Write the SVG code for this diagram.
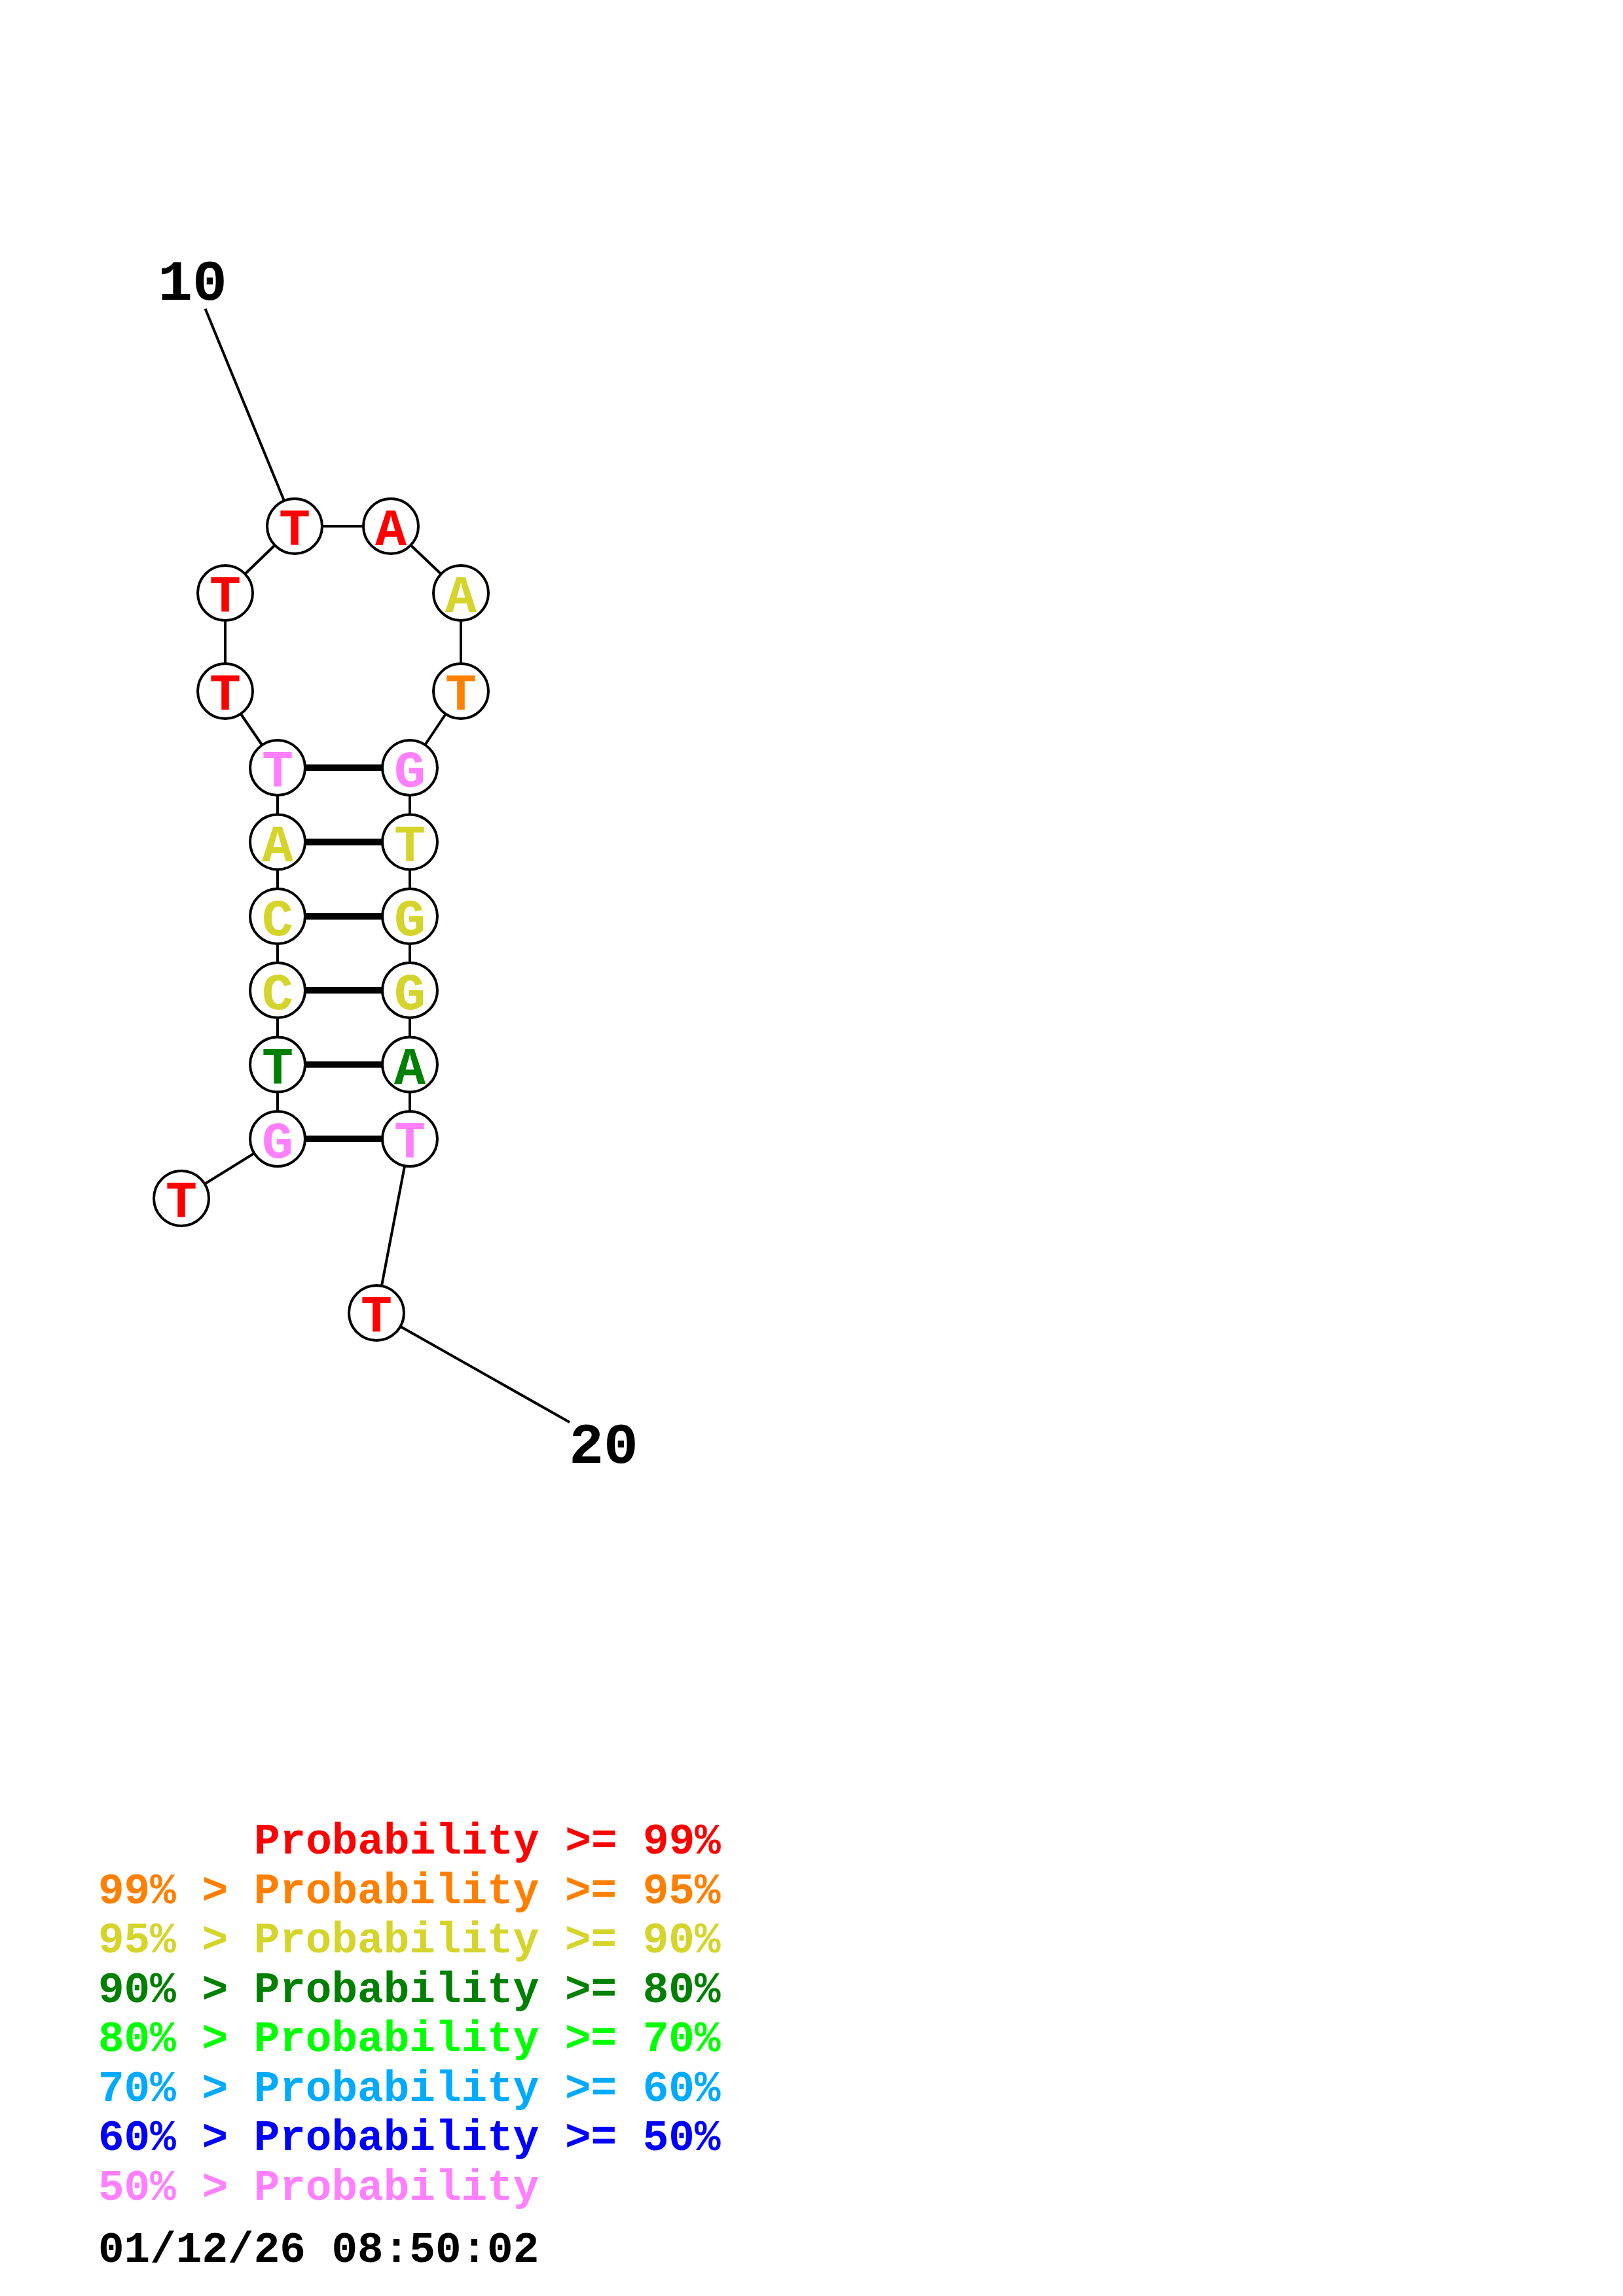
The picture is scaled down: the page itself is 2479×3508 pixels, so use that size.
<svg xmlns="http://www.w3.org/2000/svg" width="2479" height="3508" viewBox="0 0 2479 3508">
<style>
.bb{stroke:#000;stroke-width:4;fill:none}
.bp{stroke:#000;stroke-width:10;fill:none}
.nc{fill:#fff;stroke:#000;stroke-width:4}
.nt{font-family:"Liberation Mono","Courier New",monospace;font-weight:bold;font-size:80px;text-anchor:middle}
.lbl{font-family:"Liberation Mono","Courier New",monospace;font-weight:bold;font-size:88px;text-anchor:middle;fill:#000}
.lg{font-family:"Liberation Mono","Courier New",monospace;font-weight:bold;font-size:66px;white-space:pre}
.r{fill:#FF0000}.o{fill:#FF8000}.y{fill:#D4D42A}.g{fill:#008000}.lgr{fill:#00FF00}.lb{fill:#00AAFF}.b{fill:#0000FF}.p{fill:#FF80FF}.k{fill:#000}
</style>
<rect width="2479" height="3508" fill="#fff"/>
<g id="connectors">
<line class="bb" x1="313.5" y1="471.7" x2="450" y2="804"/>
<line class="bb" x1="277" y1="1831" x2="424" y2="1740"/>
<line class="bb" x1="424" y1="1740" x2="424" y2="1173"/>
<line class="bb" x1="424" y1="1173" x2="344" y2="1056"/>
<line class="bb" x1="344" y1="1056" x2="344" y2="906"/>
<line class="bb" x1="344" y1="906" x2="450" y2="804"/>
<line class="bb" x1="450" y1="804" x2="597" y2="804"/>
<line class="bb" x1="597" y1="804" x2="704" y2="906"/>
<line class="bb" x1="704" y1="906" x2="704" y2="1056"/>
<line class="bb" x1="704" y1="1056" x2="626" y2="1173"/>
<line class="bb" x1="626" y1="1173" x2="626" y2="1740"/>
<line class="bb" x1="626" y1="1740" x2="575" y2="2006"/>
<line class="bb" x1="575" y1="2006" x2="870" y2="2173"/>
<line class="bp" x1="424" y1="1173" x2="626" y2="1173"/>
<line class="bp" x1="424" y1="1286.5" x2="626" y2="1286.5"/>
<line class="bp" x1="424" y1="1400" x2="626" y2="1400"/>
<line class="bp" x1="424" y1="1513" x2="626" y2="1513"/>
<line class="bp" x1="424" y1="1626.5" x2="626" y2="1626.5"/>
<line class="bp" x1="424" y1="1740" x2="626" y2="1740"/>
</g>
<g id="label-10"><text class="lbl" x="294" y="458">10</text></g>
<g id="label-20"><text class="lbl" x="922" y="2235">20</text></g>
<g id="n1"><circle class="nc" cx="277" cy="1831" r="42"/><text class="nt r" x="277" y="1860">T</text></g>
<g id="n2"><circle class="nc" cx="424" cy="1740" r="42"/><text class="nt p" x="424" y="1769">G</text></g>
<g id="n3"><circle class="nc" cx="424" cy="1626.5" r="42"/><text class="nt g" x="424" y="1655.5">T</text></g>
<g id="n4"><circle class="nc" cx="424" cy="1513" r="42"/><text class="nt y" x="424" y="1542">C</text></g>
<g id="n5"><circle class="nc" cx="424" cy="1400" r="42"/><text class="nt y" x="424" y="1429">C</text></g>
<g id="n6"><circle class="nc" cx="424" cy="1286.5" r="42"/><text class="nt y" x="424" y="1315.5">A</text></g>
<g id="n7"><circle class="nc" cx="424" cy="1173" r="42"/><text class="nt p" x="424" y="1202">T</text></g>
<g id="n8"><circle class="nc" cx="344" cy="1056" r="42"/><text class="nt r" x="344" y="1085">T</text></g>
<g id="n9"><circle class="nc" cx="344" cy="906" r="42"/><text class="nt r" x="344" y="935">T</text></g>
<g id="n10"><circle class="nc" cx="450" cy="804" r="42"/><text class="nt r" x="450" y="833">T</text></g>
<g id="n11"><circle class="nc" cx="597" cy="804" r="42"/><text class="nt r" x="597" y="833">A</text></g>
<g id="n12"><circle class="nc" cx="704" cy="906" r="42"/><text class="nt y" x="704" y="935">A</text></g>
<g id="n13"><circle class="nc" cx="704" cy="1056" r="42"/><text class="nt o" x="704" y="1085">T</text></g>
<g id="n14"><circle class="nc" cx="626" cy="1173" r="42"/><text class="nt p" x="626" y="1202">G</text></g>
<g id="n15"><circle class="nc" cx="626" cy="1286.5" r="42"/><text class="nt y" x="626" y="1315.5">T</text></g>
<g id="n16"><circle class="nc" cx="626" cy="1400" r="42"/><text class="nt y" x="626" y="1429">G</text></g>
<g id="n17"><circle class="nc" cx="626" cy="1513" r="42"/><text class="nt y" x="626" y="1542">G</text></g>
<g id="n18"><circle class="nc" cx="626" cy="1626.5" r="42"/><text class="nt g" x="626" y="1655.5">A</text></g>
<g id="n19"><circle class="nc" cx="626" cy="1740" r="42"/><text class="nt p" x="626" y="1769">T</text></g>
<g id="n20"><circle class="nc" cx="575" cy="2006" r="42"/><text class="nt r" x="575" y="2035">T</text></g>
<g id="legend">
<text class="lg r" x="388" y="2832">Probability &gt;= 99%</text>
<text class="lg o" x="150" y="2907.5">99% &gt; Probability &gt;= 95%</text>
<text class="lg y" x="150" y="2983">95% &gt; Probability &gt;= 90%</text>
<text class="lg g" x="150" y="3058.5">90% &gt; Probability &gt;= 80%</text>
<text class="lg lgr" x="150" y="3134">80% &gt; Probability &gt;= 70%</text>
<text class="lg lb" x="150" y="3209.5">70% &gt; Probability &gt;= 60%</text>
<text class="lg b" x="150" y="3285">60% &gt; Probability &gt;= 50%</text>
<text class="lg p" x="150" y="3360.5">50% &gt; Probability</text>
<text class="lg k" x="150" y="3455.5">01/12/26 08:50:02</text>
</g>
</svg>
